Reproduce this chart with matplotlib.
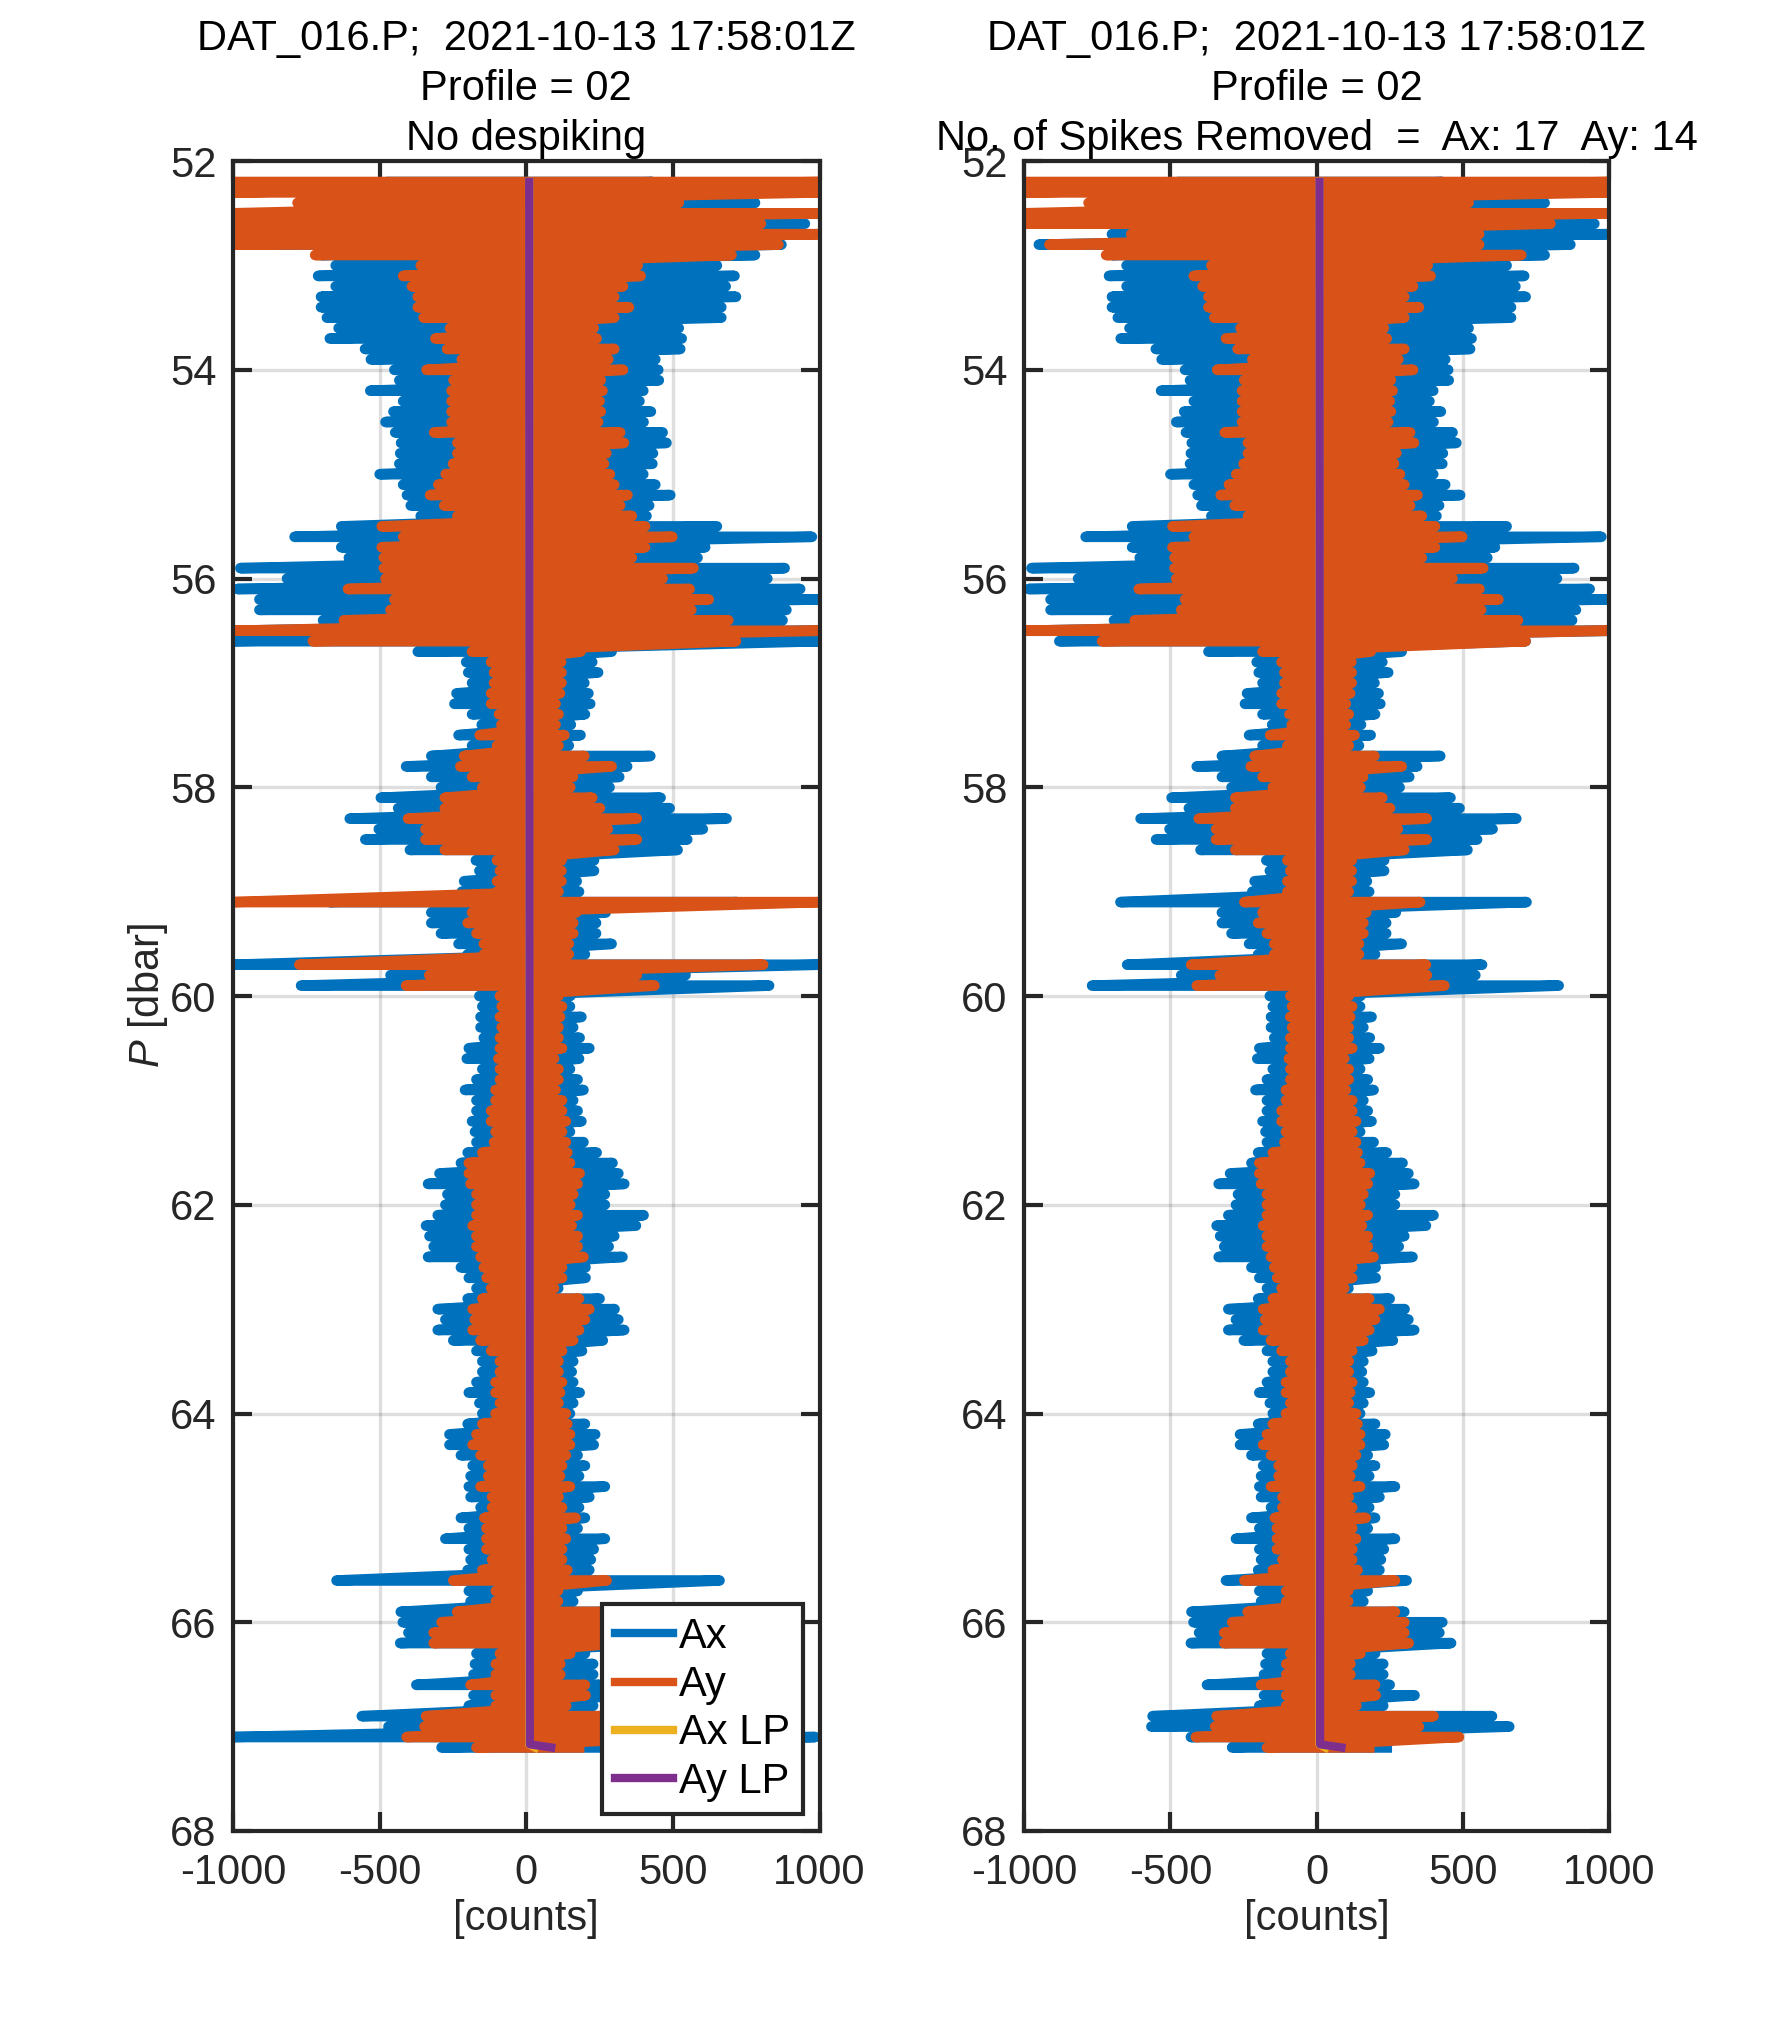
import numpy as np
import matplotlib
matplotlib.use('Agg')
import matplotlib.pyplot as plt

plt.rcParams['font.family'] = ['Liberation Sans', 'DejaVu Sans']
plt.rcParams['mathtext.fontset'] = 'custom'
plt.rcParams['mathtext.it'] = 'Liberation Sans:italic'
plt.rcParams['mathtext.rm'] = 'Liberation Sans'
plt.rcParams['axes.unicode_minus'] = False

# pressure of each sample row [dbar]
pres = [52.2, 52.3, 52.4, 52.5, 52.6, 52.7, 52.8, 52.9,
        53.0, 53.1, 53.2, 53.3, 53.4, 53.5, 53.6, 53.7, 53.8, 53.9,
        54.0, 54.1, 54.2, 54.3, 54.4, 54.5, 54.6, 54.7, 54.8, 54.9,
        55.0, 55.1, 55.2, 55.3, 55.4, 55.5, 55.6, 55.7, 55.8, 55.9,
        56.0, 56.1, 56.2, 56.3, 56.4, 56.5, 56.6, 56.7, 56.8, 56.9,
        57.0, 57.1, 57.2, 57.3, 57.4, 57.5, 57.6, 57.7, 57.8, 57.9,
        58.0, 58.1, 58.2, 58.3, 58.4, 58.5, 58.6, 58.7, 58.8, 58.9,
        59.0, 59.1, 59.2, 59.3, 59.4, 59.5, 59.6, 59.7, 59.8, 59.9,
        60.0, 60.1, 60.2, 60.3, 60.4, 60.5, 60.6, 60.7, 60.8, 60.9,
        61.0, 61.1, 61.2, 61.3, 61.4, 61.5, 61.6, 61.7, 61.8, 61.9,
        62.0, 62.1, 62.2, 62.3, 62.4, 62.5, 62.6, 62.7, 62.8, 62.9,
        63.0, 63.1, 63.2, 63.3, 63.4, 63.5, 63.6, 63.7, 63.8, 63.9,
        64.0, 64.1, 64.2, 64.3, 64.4, 64.5, 64.6, 64.7, 64.8, 64.9,
        65.0, 65.1, 65.2, 65.3, 65.4, 65.5, 65.6, 65.7, 65.8, 65.9,
        66.0, 66.1, 66.2, 66.3, 66.4, 66.5, 66.6, 66.7, 66.8, 66.9,
        67.0, 67.1, 67.2]

# raw Ax swing (min / max over each row) [counts]
ax_lo = [-460, -500, -700, -800, -900, -1000, -950, -700,
         -650, -710, -650, -700, -700, -680, -640, -670, -550, -530,
         -450, -433, -532, -420, -453, -480, -447, -427, -430, -433,
         -500, -420, -407, -394, -360, -631, -790, -631, -605, -975,
         -816, -985, -910, -910, -693, -1000, -1000, -370, -205, -198,
         -185, -238, -245, -185, -152, -231, -185, -324, -410, -324,
         -291, -496, -437, -602, -503, -549, -397, -172, -160, -212,
         -220, -671, -324, -324, -291, -231, -200, -1000, -463, -768,
         -160, -150, -156, -156, -145, -196, -203, -150, -170, -209,
         -170, -170, -185, -175, -170, -200, -223, -296, -335, -269,
         -276, -302, -342, -330, -316, -335, -223, -196, -170, -200,
         -302, -276, -302, -249, -170, -150, -150, -170, -196, -160,
         -150, -200, -262, -262, -223, -183, -190, -196, -190, -156,
         -223, -196, -276, -196, -190, -200, -647, -196, -190, -428,
         -421, -402, -430, -170, -175, -180, -375, -180, -196, -561,
         -470, -1000, -289]
ax_hi = [430, 500, 780, 950, 950, 880, 870, 780,
         650, 710, 680, 715, 665, 665, 520, 530, 525, 440,
         450, 452, 399, 386, 425, 400, 465, 478, 432, 430,
         399, 440, 491, 419, 410, 650, 974, 610, 584, 881,
         822, 934, 1000, 887, 874, 1000, 1000, 291, 225, 245,
         198, 212, 218, 200, 152, 185, 145, 423, 344, 317,
         284, 458, 489, 683, 602, 549, 516, 231, 231, 172,
         180, 718, 271, 238, 238, 291, 200, 1000, 543, 828,
         150, 149, 188, 160, 182, 215, 180, 149, 175, 195,
         160, 175, 188, 149, 195, 240, 294, 314, 334, 268,
         268, 400, 374, 300, 281, 328, 202, 202, 109, 250,
         301, 314, 334, 261, 190, 160, 155, 160, 182, 160,
         149, 200, 235, 230, 175, 200, 180, 268, 215, 180,
         200, 175, 268, 230, 220, 215, 659, 175, 160, 300,
         430, 420, 460, 200, 228, 228, 250, 335, 228, 600,
         659, 985, 240]

# raw Ay swing [counts]
ay_lo = [-1000, -1000, -780, -1000, -1000, -1000, -1000, -720,
         -360, -420, -390, -370, -370, -350, -260, -310, -270, -220,
         -340, -248, -255, -255, -255, -255, -314, -235, -235, -250,
         -275, -300, -328, -280, -235, -493, -420, -493, -486, -486,
         -480, -608, -450, -463, -622, -1000, -728, -185, -120, -110,
         -110, -120, -120, -93, -85, -159, -100, -212, -225, -185,
         -150, -278, -278, -403, -344, -344, -278, -100, -90, -100,
         -100, -1000, -185, -200, -170, -145, -145, -774, -331, -410,
         -90, -84, -90, -84, -90, -90, -95, -90, -90, -105,
         -105, -120, -120, -105, -110, -150, -196, -196, -190, -170,
         -170, -170, -183, -170, -170, -156, -145, -135, -120, -150,
         -183, -176, -183, -156, -120, -90, -90, -105, -105, -90,
         -105, -150, -170, -183, -156, -130, -130, -156, -117, -117,
         -143, -136, -136, -136, -117, -150, -249, -104, -104, -236,
         -289, -316, -316, -90, -104, -104, -190, -104, -104, -342,
         -347, -408, -170]
ay_hi = [1000, 1000, 520, 1000, 800, 1000, 860, 700,
         380, 390, 330, 300, 350, 300, 230, 240, 300, 280,
         330, 254, 260, 250, 254, 245, 320, 333, 273, 265,
         285, 300, 345, 320, 360, 405, 498, 405, 360, 570,
         465, 557, 622, 563, 689, 1000, 715, 185, 119, 120,
         120, 115, 100, 110, 100, 130, 110, 198, 291, 159,
         150, 225, 251, 377, 278, 377, 300, 120, 120, 120,
         110, 1000, 170, 160, 160, 145, 145, 808, 377, 437,
         110, 122, 115, 110, 110, 122, 95, 110, 110, 100,
         122, 122, 135, 122, 135, 140, 149, 182, 175, 160,
         150, 175, 155, 175, 175, 195, 122, 122, 95, 180,
         215, 200, 180, 160, 122, 110, 110, 122, 115, 110,
         135, 140, 149, 149, 135, 122, 115, 149, 110, 122,
         168, 122, 135, 122, 122, 140, 274, 108, 108, 268,
         300, 300, 315, 150, 116, 116, 200, 202, 136, 400,
         350, 487, 180]

# rows that change after despiking
ds_pres = [52.7, 52.8, 56.6, 59.1, 59.7, 65.6, 67.0, 67.1]
ds_ax_lo = [-700, -950, -880, -671, -648, -310, -565, -430]
ds_ax_hi = [1000, 868, 715, 718, 566, 308, 659, 420]
ds_ay_lo = [-634, -914, -734, -247, -429, -247, -347, -413]
ds_ay_hi = [556, 556, 715, 354, 374, 268, 350, 487]

# low-passed signals
lp_pres = [52.2, 67.17, 67.2]
ax_lp = [10, 10, 30]
ay_lp = [10, 12, 85]

blue = '#0072BD'
orange = '#D95319'
yellow = '#EDB120'
purple = '#7E2F8E'
dark = '#262626'


def swing(lo, hi):
    x = np.column_stack([lo, hi]).ravel()
    y = np.repeat(pres, 2)
    return x, y


def despike(vals, new_vals):
    out = list(vals)
    for p, v in zip(ds_pres, new_vals):
        out[pres.index(p)] = v
    return out


fig = plt.figure(figsize=(8.86, 10.145), dpi=200)
ax1 = fig.add_axes([0.1315, 0.0976, 0.331, 0.823])
ax2 = fig.add_axes([0.578, 0.0976, 0.330, 0.823])

panels = [
    (ax1, ax_lo, ax_hi, ay_lo, ay_hi, 'No despiking'),
    (ax2, despike(ax_lo, ds_ax_lo), despike(ax_hi, ds_ax_hi),
     despike(ay_lo, ds_ay_lo), despike(ay_hi, ds_ay_hi),
     'No. of Spikes Removed  =  Ax: 17  Ay: 14'),
]

for ax, xlo, xhi, ylo, yhi, line3 in panels:
    x, y = swing(xlo, xhi)
    ax.plot(x, y, color=blue, lw=3.8, solid_joinstyle='round', label='Ax')
    x, y = swing(ylo, yhi)
    ax.plot(x, y, color=orange, lw=3.8, solid_joinstyle='round', label='Ay')
    ax.plot(ax_lp, lp_pres, color=yellow, lw=3, label='Ax LP')
    ax.plot(ay_lp, lp_pres, color=purple, lw=3, label='Ay LP')

    ax.set_xlim(-1000, 1000)
    ax.set_ylim(68, 52)
    ax.set_xticks([-1000, -500, 0, 500, 1000])
    ax.set_yticks([52, 54, 56, 58, 60, 62, 64, 66, 68])
    ax.grid(True, color=dark, alpha=0.15, lw=1.2)
    ax.set_axisbelow(True)
    ax.tick_params(direction='in', top=True, right=True, length=7, width=1.5,
                   labelsize=15, colors=dark, pad=6)
    ax.tick_params(axis='x', pad=8)
    for s in ax.spines.values():
        s.set_linewidth(1.5)
        s.set_color(dark)
    ax.set_xlabel('[counts]', fontsize=15, color=dark, labelpad=2)
    ax.set_title('DAT_016.P;  2021-10-13 17:58:01Z\nProfile = 02\n' + line3,
                 fontsize=15, pad=4, linespacing=1.33)

ax1.set_ylabel('$P$ [dbar]', fontsize=15, color=dark, labelpad=0)

leg = ax1.legend(loc='lower right', fontsize=15, fancybox=False,
                 edgecolor=dark, framealpha=1, handlelength=1.4,
                 handletextpad=0.15, labelspacing=0.2, borderpad=0.3,
                 borderaxespad=0.4)
leg.get_frame().set_linewidth(1.5)
for h in leg.get_lines():
    h.set_linewidth(3)

fig.savefig('out.png', dpi=200)
